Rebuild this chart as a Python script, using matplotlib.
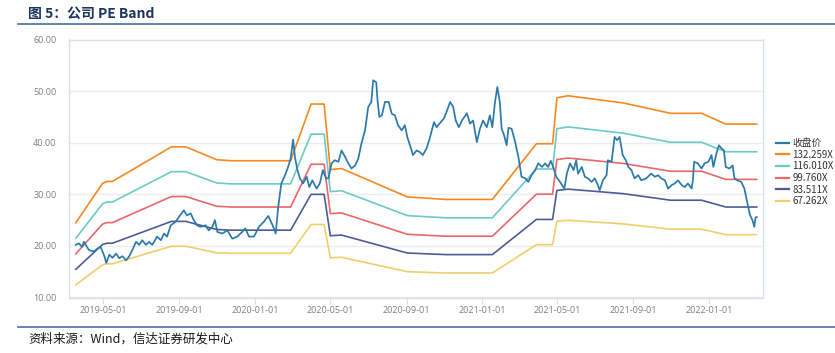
import matplotlib
matplotlib.use("Agg")
import matplotlib.pyplot as plt
from matplotlib.lines import Line2D
import pandas as pd

# ---------------- data ----------------
price_dates = [
    '2019-03-18','2019-03-23','2019-03-28','2019-03-31','2019-04-03','2019-04-08','2019-04-16','2019-04-22',
    '2019-04-27','2019-05-03','2019-05-06','2019-05-11','2019-05-16','2019-05-22','2019-05-27','2019-06-01',
    '2019-06-07','2019-06-12','2019-06-17','2019-06-23','2019-06-28','2019-07-03','2019-07-09','2019-07-14',
    '2019-07-19','2019-07-27','2019-08-02','2019-08-07','2019-08-12','2019-08-18','2019-08-26','2019-08-31',
    '2019-09-08','2019-09-13','2019-09-19','2019-09-24','2019-09-29','2019-10-05','2019-10-13','2019-10-18',
    '2019-10-24','2019-10-28','2019-11-01','2019-11-09','2019-11-17','2019-11-25','2019-12-03','2019-12-11',
    '2019-12-16','2019-12-22','2019-12-30','2020-01-07','2020-01-15','2020-01-22','2020-01-29','2020-02-03',
    '2020-02-07','2020-02-12','2020-02-17','2020-02-23','2020-02-27','2020-03-02','2020-03-05','2020-03-09',
    '2020-03-13','2020-03-18','2020-03-24','2020-03-28','2020-04-02','2020-04-09','2020-04-14','2020-04-19',
    '2020-04-24','2020-04-28','2020-05-03','2020-05-08','2020-05-14','2020-05-19','2020-05-25','2020-05-30',
    '2020-06-04','2020-06-10','2020-06-15','2020-06-20','2020-06-26','2020-07-01','2020-07-06','2020-07-09',
    '2020-07-14','2020-07-16','2020-07-19','2020-07-23','2020-07-28','2020-08-03','2020-08-08','2020-08-13',
    '2020-08-18','2020-08-24','2020-08-29','2020-09-02','2020-09-09','2020-09-11','2020-09-17','2020-09-22',
    '2020-09-27','2020-10-03','2020-10-08','2020-10-15','2020-10-19','2020-10-24','2020-10-31','2020-11-04',
    '2020-11-10','2020-11-15','2020-11-19','2020-11-24','2020-11-29','2020-12-07','2020-12-12','2020-12-17',
    '2020-12-23','2020-12-28','2021-01-02','2021-01-08','2021-01-13','2021-01-17','2021-01-21','2021-01-25',
    '2021-01-29','2021-02-01','2021-02-05','2021-02-09','2021-02-12','2021-02-17','2021-02-22','2021-02-28',
    '2021-03-05','2021-03-11','2021-03-16','2021-03-21','2021-03-27','2021-04-01','2021-04-07','2021-04-12',
    '2021-04-17','2021-04-21','2021-04-25','2021-04-30','2021-05-06','2021-05-13','2021-05-17','2021-05-22',
    '2021-05-28','2021-06-01','2021-06-04','2021-06-10','2021-06-15','2021-06-20','2021-06-26','2021-07-01',
    '2021-07-06','2021-07-09','2021-07-14','2021-07-20','2021-07-22','2021-07-28','2021-08-02','2021-08-06',
    '2021-08-10','2021-08-15','2021-08-20','2021-08-24','2021-08-29','2021-09-03','2021-09-09','2021-09-14',
    '2021-09-22','2021-09-30','2021-10-06','2021-10-11','2021-10-16','2021-10-22','2021-10-27','2021-11-02',
    '2021-11-07','2021-11-12','2021-11-18','2021-11-23','2021-11-28','2021-12-04','2021-12-06','2021-12-08',
    '2021-12-14','2021-12-20','2021-12-25','2021-12-31','2022-01-05','2022-01-08','2022-01-13','2022-01-17',
    '2022-01-21','2022-01-25','2022-01-28','2022-02-03','2022-02-08','2022-02-11','2022-02-16','2022-02-22',
    '2022-02-27','2022-03-04','2022-03-08','2022-03-12','2022-03-15','2022-03-17','2022-03-19',
]
price_values = [
    20.2, 20.5, 19.8, 20.8, 20.2, 19.2, 18.9, 19.5,
    19.8, 18.0, 16.7, 18.3, 17.7, 18.5, 17.6, 18.0,
    17.2, 18.0, 19.2, 20.8, 20.2, 21.1, 20.2, 20.8,
    20.2, 21.8, 21.1, 22.4, 21.8, 24.0, 24.7, 25.6,
    26.9, 25.9, 26.3, 25.0, 24.0, 23.7, 24.0, 23.0,
    23.7, 25.0, 22.7, 22.4, 23.0, 21.4, 21.8, 22.7,
    23.4, 21.8, 21.8, 23.7, 24.7, 25.8, 24.0, 22.4,
    27.5, 32.1, 33.4, 35.3, 36.9, 40.6, 37.2, 34.7,
    33.1, 32.1, 33.4, 31.4, 32.7, 31.1, 32.1, 34.7,
    33.1, 33.1, 36.0, 36.6, 36.3, 38.5, 37.2, 36.0,
    35.0, 35.6, 36.9, 39.8, 42.5, 46.9, 47.9, 52.1,
    51.7, 48.2, 45.0, 45.3, 47.9, 47.9, 45.6, 45.3,
    43.4, 42.4, 43.4, 41.1, 38.5, 37.6, 38.5, 38.2,
    37.6, 38.9, 40.8, 44.0, 43.0, 43.7, 44.7, 45.9,
    47.9, 46.9, 44.3, 43.0, 44.3, 45.7, 43.7, 44.3,
    40.1, 42.7, 44.3, 43.0, 45.3, 43.0, 47.6, 50.8,
    47.9, 42.7, 41.4, 39.5, 42.9, 42.7, 40.5, 37.2,
    33.4, 33.1, 32.4, 33.7, 34.7, 36.0, 35.3, 36.0,
    35.3, 36.5, 35.3, 33.4, 32.4, 31.1, 34.0, 36.0,
    34.7, 36.6, 34.0, 35.3, 33.4, 33.1, 32.4, 33.1,
    31.8, 30.8, 32.7, 33.7, 36.6, 36.3, 41.1, 40.5,
    41.1, 37.6, 36.6, 35.3, 34.7, 33.1, 33.7, 32.7,
    33.1, 34.0, 33.4, 33.7, 33.1, 32.7, 31.1, 31.8,
    32.1, 32.7, 31.8, 31.4, 32.1, 31.1, 32.7, 36.3,
    36.0, 35.0, 36.0, 36.3, 37.6, 35.3, 37.9, 39.5,
    38.9, 38.5, 35.3, 35.0, 35.6, 33.1, 32.7, 32.4,
    31.1, 28.2, 26.0, 25.0, 23.7, 25.5, 25.6,
]

# EPS path used for the PE band: band = multiple * EPS
eps_dates = ['2019-03-18','2019-04-30','2019-05-07','2019-05-16','2019-08-19','2019-09-11','2019-10-31',
             '2019-11-24','2020-02-27','2020-03-31','2020-04-21','2020-05-01','2020-05-19','2020-09-02',
             '2020-11-03','2021-01-17','2021-03-29','2021-04-24','2021-05-01','2021-05-19','2021-08-16',
             '2021-10-31','2021-12-20','2022-01-28','2022-03-19']
eps_values = [0.1852, 0.2427, 0.2457, 0.2457, 0.2964, 0.2964, 0.2775,
              0.2760, 0.2760, 0.3591, 0.3591, 0.2631, 0.2646, 0.2230,
              0.2193, 0.2193, 0.3009, 0.3009, 0.3682, 0.3712, 0.3607,
              0.3455, 0.3455, 0.3297, 0.3297]

pe_multiples = [132.259, 116.010, 99.760, 83.511, 67.262]
band_labels = ['132.259X', '116.010X', '99.760X', '83.511X', '67.262X']
price_label = '收盘价'
xtick_labels = ['2019-05-01', '2019-09-01', '2020-01-01', '2020-05-01', '2020-09-01',
                '2021-01-01', '2021-05-01', '2021-09-01', '2022-01-01']
ytick_values = [10, 20, 30, 40, 50, 60]

title_text = '图 5：公司 PE Band'
source_text = '资料来源：Wind，信达证券研发中心'

# ---------------- styles ----------------
price_color = '#2a7aab'
band_colors = ['#f5891f', '#6ccac6', '#e9676b', '#4f5b93', '#f0cf6b']
frame_color = '#d8e0eb'
grid_color = '#ececec'
tick_color = '#7f7f7f'
accent = '#4a6ea8'

plt.rcParams['font.family'] = ['Noto Sans CJK SC', 'DejaVu Sans']

W, H = 835, 353
fig = plt.figure(figsize=(W / 100, H / 100), dpi=100)

# header / footer
fig.text(28 / W, 1 - 14 / H, title_text, fontsize=10, fontweight='bold', color='#1c355e',
         ha='left', va='center')
fig.add_artist(Line2D([18 / W, 1.0], [1 - 24 / H, 1 - 24 / H], color=accent, lw=1.2,
                      transform=fig.transFigure))
fig.add_artist(Line2D([18 / W, 1.0], [1 - 327 / H, 1 - 327 / H], color=accent, lw=1.2,
                      transform=fig.transFigure))
fig.text(28 / W, 1 - 339 / H, source_text, fontsize=9, color='#1a1a1a', fontstyle='italic',
         ha='left', va='center')

# axes
left, right, top, bottom = 69, 763, 39.5, 297.5
ax = fig.add_axes([left / W, 1 - bottom / H, (right - left) / W, (bottom - top) / H])

pdates = pd.to_datetime(price_dates)
edates = pd.to_datetime(eps_dates)

for m, lab, c in zip(pe_multiples, band_labels, band_colors):
    ax.plot(edates, [m * e for e in eps_values], color=c, lw=1.2, label=lab, zorder=2)
ax.plot(pdates, price_values, color=price_color, lw=1.25, label=price_label, zorder=3)

ax.set_ylim(10, 60)
ax.set_xlim(pd.Timestamp('2019-03-07'), pd.Timestamp('2022-03-29'))
ax.set_yticks(ytick_values)
ax.set_yticklabels([f'{v:.2f}' for v in ytick_values])
ax.set_xticks(pd.to_datetime(xtick_labels))
ax.set_xticklabels(xtick_labels)

ax.grid(axis='y', color=grid_color, lw=1.0, zorder=0)
ax.set_axisbelow(True)
for s in ax.spines.values():
    s.set_color(frame_color)
    s.set_linewidth(1.0)

ax.tick_params(axis='y', length=0, pad=9, labelsize=6.5, labelcolor=tick_color)
ax.tick_params(axis='x', length=4, width=0.8, color=frame_color, pad=2,
               labelsize=6.5, labelcolor=tick_color)
for lbl in ax.get_xticklabels() + ax.get_yticklabels():
    lbl.set_family(['Open Sans', 'DejaVu Sans'])

# legend (price first)
handles, labels = ax.get_legend_handles_labels()
order = [5, 0, 1, 2, 3, 4]
leg = fig.legend([handles[i] for i in order], [labels[i] for i in order],
                 loc='upper left', bbox_to_anchor=(776 / W, 1 - 138 / H),
                 frameon=False, fontsize=7, handlelength=1.3, handletextpad=0.4,
                 labelspacing=0.17, borderaxespad=0, borderpad=0)
for t in leg.get_texts():
    t.set_color('#333333')
for l in leg.get_lines():
    l.set_linewidth(1.6)

fig.savefig('out.png', dpi=100)
